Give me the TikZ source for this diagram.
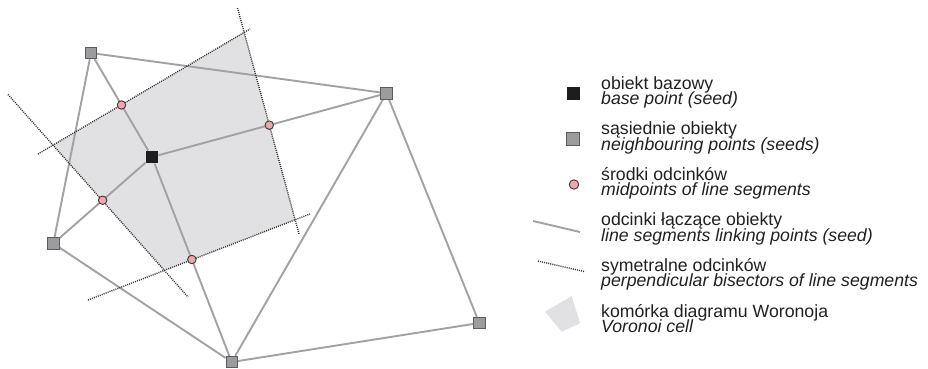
\documentclass[tikz,border=0pt]{standalone}
\usepackage{fontspec}
\setmainfont{Liberation Sans}
\usetikzlibrary{calc}
\definecolor{segc}{HTML}{A2A2A4}
\definecolor{bisc}{HTML}{333333}
\definecolor{cellc}{HTML}{E1E1E3}
\definecolor{nbfill}{HTML}{9C9C9F}
\definecolor{nbdraw}{HTML}{5C5C5E}
\definecolor{basefill}{HTML}{1E1C1C}
\definecolor{midfill}{HTML}{F2A3AC}
\definecolor{middraw}{HTML}{3A3A3A}
\definecolor{txtc}{HTML}{231F20}
\pgfdeclarelayer{bg}
\pgfsetlayers{bg,main}
\newcommand{\legpair}[2]{\vtop{\baselineskip=15.5pt\lineskiplimit=-100pt\hbox{#1}\hbox{\itshape #2}}}
\begin{document}
\begin{tikzpicture}[x=1pt,y=-1pt,
  seg/.style={draw=segc,line width=1.9pt},
  bisector/.style={draw=bisc,line width=1.4pt,dash pattern=on 1pt off 1.1pt},
  cellfill/.style={fill=cellc},
  nbpt/.style={rectangle,draw=nbdraw,fill=nbfill,line width=0.8pt,minimum size=11.5pt,inner sep=0pt},
  basept/.style={rectangle,fill=basefill,minimum size=12.5pt,inner sep=0pt},
  midpt/.style={circle,draw=middraw,fill=midfill,line width=0.9pt,minimum size=8.5pt,inner sep=0pt},
  legtxt/.style={anchor=base west,inner sep=0pt,text=txtc,font=\fontsize{17.7}{15.5}\selectfont}]
\useasboundingbox (0,0) rectangle (928,369);

% seeds
\node[basept] (B) at (152,157) {};
\node[nbpt] (N1) at (91,53) {};
\node[nbpt] (N2) at (386.5,93.3) {};
\node[nbpt] (N3) at (53.3,243.5) {};
\node[nbpt] (N4) at (231.7,362) {};
\node[nbpt] (N5) at (479.3,323) {};
% midpoints
\node[midpt] (M1) at ($(B)!0.5!(N1)$) {};
\node[midpt] (M2) at ($(B)!0.5!(N2)$) {};
\node[midpt] (M3) at ($(B)!0.5!(N3)$) {};
\node[midpt] (M4) at ($(B)!0.5!(N4)$) {};

% bisector end points
\coordinate (b1a) at (38,154);
\coordinate (b1b) at (250,29);
\coordinate (b2a) at (237.5,8);
\coordinate (b2b) at (299,234);
\coordinate (b3a) at (8,94.5);
\coordinate (b3b) at (188,297);
\coordinate (b4a) at (88,300);
\coordinate (b4b) at (310,214);

\begin{pgfonlayer}{bg}
\fill[cellfill] (intersection of b1a--b1b and b2a--b2b)
  -- (intersection of b2a--b2b and b4a--b4b)
  -- (intersection of b4a--b4b and b3a--b3b)
  -- (intersection of b3a--b3b and b1a--b1b) -- cycle;
\draw[seg] (B) -- (N1);
\draw[seg] (B) -- (N2);
\draw[seg] (B) -- (N3);
\draw[seg] (B) -- (N4);
\draw[seg] (N1) -- (N2);
\draw[seg] (N1) -- (N3);
\draw[seg] (N3) -- (N4);
\draw[seg] (N4) -- (N2);
\draw[seg] (N2) -- (N5);
\draw[seg] (N4) -- (N5);
\draw[bisector] (b1a) -- (b1b);
\draw[bisector] (b2a) -- (b2b);
\draw[bisector] (b3a) -- (b3b);
\draw[bisector] (b4a) -- (b4b);
\end{pgfonlayer}

% legend icons
\node[basept,minimum size=13.5pt] (LB) at (573.3,93.3) {};
\node[nbpt,minimum size=13pt] (LN) at (572.7,139.3) {};
\node[midpt,minimum size=9.5pt] (LM) at (574,184.5) {};
\coordinate (LSa) at (533,221);
\coordinate (LSb) at (580,232);
\draw[seg] (LSa) -- (LSb);
\coordinate (LDa) at (538,261);
\coordinate (LDb) at (584,271.5);
\draw[bisector] (LDa) -- (LDb);
\fill[cellfill] (545,311.7) coordinate (LC1) -- (571.7,296) coordinate (LC2)
  -- (580,323.3) coordinate (LC3) -- (561.7,331.7) coordinate (LC4) -- cycle;

% legend texts
\node[legtxt] (T1) at (601,89) {\legpair{obiekt bazowy}{base point (seed)}};
\node[legtxt] (T2) at (601,134.6) {\legpair{sąsiednie obiekty}{neighbouring points (seeds)}};
\node[legtxt] (T3) at (601,180.2) {\legpair{środki odcinków}{midpoints of line segments}};
\node[legtxt] (T4) at (601,225.8) {\legpair{odcinki łączące obiekty}{line segments linking points (seed)}};
\node[legtxt] (T5) at (601,271.4) {\legpair{symetralne odcinków}{perpendicular bisectors of line segments}};
\node[legtxt] (T6) at (601,317) {\legpair{komórka diagramu Woronoja}{Voronoi cell}};
\end{tikzpicture}
\end{document}
